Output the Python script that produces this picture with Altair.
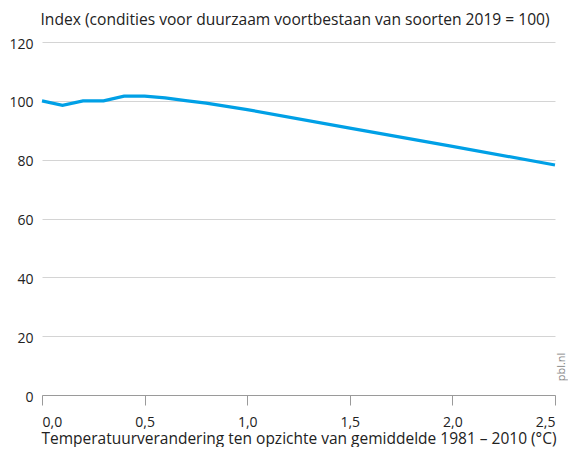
import altair as alt
import pandas as pd

temp = [0.0, 0.1, 0.2, 0.3, 0.4, 0.5, 0.6, 0.7, 0.8, 0.9, 1.0, 1.5, 2.0, 2.5]
index = [100.0, 98.5, 100.0, 100.0, 101.6, 101.6, 101.0, 100.1, 99.2, 98.1, 97.0, 90.7, 84.5, 78.2]

df = pd.DataFrame({"temp": temp, "index": index})

FONT = "Open Sans"
W, H = 513, 353

line = alt.Chart(df).mark_line(color="#00a0e6", strokeWidth=3.2, clip=False).encode(
    x=alt.X("temp:Q", scale=alt.Scale(domain=[0, 2.5], nice=False),
            axis=alt.Axis(values=[0, 0.5, 1.0, 1.5, 2.0, 2.5],
                          labelExpr="replace(format(datum.value, '.1f'), '.', ',')",
                          title="Temperatuurverandering ten opzichte van gemiddelde 1981 – 2010 (°C)",
                          grid=False, domainColor="#9a9a9a", tickColor="#9a9a9a",
                          tickSize=10, labelPadding=10, labelFontSize=14, titleFontSize=15.5,
                          titleFontWeight="normal", titlePadding=2, labelColor="#222",
                          titleColor="#222", labelFont=FONT, titleFont=FONT)),
    y=alt.Y("index:Q", scale=alt.Scale(domain=[0, 120], nice=False),
            axis=alt.Axis(values=[0, 20, 40, 60, 80, 100, 120], domain=False, ticks=False,
                          gridColor="#d4d4d4", labelPadding=9, labelFontSize=14,
                          labelOffset=2, labelColor="#222", labelFont=FONT,
                          title="Index (condities voor duurzaam voortbestaan van soorten 2019 = 100)",
                          titleAngle=0, titleAlign="left", titleBaseline="alphabetic",
                          titleX=-2, titleY=-18, titleFontSize=15.6, titleFontWeight="normal",
                          titleColor="#222", titleFont=FONT)),
)

src = alt.Chart(pd.DataFrame({"t": ["pbl.nl"]})).mark_text(
    angle=270, font=FONT, fontSize=11, color="#888", align="center", baseline="middle"
).encode(text="t:N", x=alt.value(W + 7), y=alt.value(H - 28))

chart = (line + src).properties(
    width=W, height=H,
    autosize=alt.AutoSizeParams(type="none"),
    padding={"left": 34, "top": 34, "right": 13, "bottom": 52},
).configure_view(stroke=None)

chart.save("out.html", embed_options={"renderer": "svg", "actions": False})
